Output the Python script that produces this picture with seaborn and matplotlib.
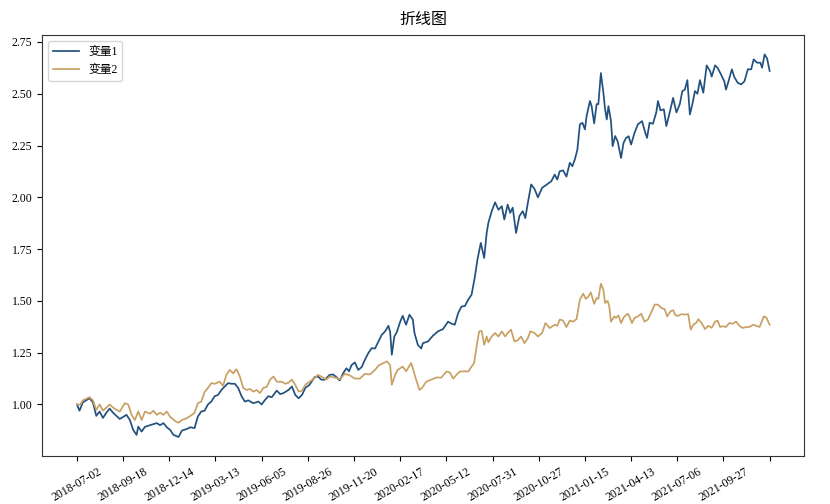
import matplotlib
matplotlib.use("Agg")
import matplotlib.pyplot as plt
import seaborn as sns
import pandas as pd

# ---- data (trading-day index, value) ----
days_v1 = [0, 3, 7, 15, 19, 23, 27, 31, 35, 39, 43, 47, 51, 55, 59, 63, 67, 71, 73, 77,
           81, 87, 95, 99, 103, 107, 111, 115, 121, 125, 131, 135, 140, 144, 148, 152, 156, 160, 164, 168,
           172, 176, 180, 184, 188, 192, 196, 200, 204, 210, 216, 220, 224, 228, 232, 238, 242, 246, 252, 256,
           260, 264, 268, 272, 277, 283, 287, 291, 295, 301, 305, 309, 313, 317, 321, 324, 327, 331, 335, 339,
           343, 347, 351, 355, 359, 363, 367, 371, 373, 375, 378, 381, 385, 388, 392, 396, 400, 402, 406, 410,
           412, 418, 424, 430, 436, 442, 446, 450, 454, 458, 462, 466, 470, 474, 477, 481, 485, 488, 490, 494,
           498, 502, 506, 509, 513, 516, 519, 523, 527, 531, 534, 537, 541, 545, 549, 554, 559, 565, 569, 572,
           575, 579, 583, 587, 590, 593, 596, 599, 602, 605, 607, 611, 613, 616, 619, 621, 624, 627, 629, 631,
           633, 636, 638, 641, 644, 648, 651, 654, 657, 660, 664, 668, 673, 677, 679, 682, 686, 690, 692, 695,
           699, 702, 706, 710, 714, 718, 721, 724, 727, 730, 733, 736, 739, 742, 746, 750, 754, 756, 760, 763,
           767, 771, 773, 776, 780, 783, 787, 791, 795, 799, 803, 806, 810, 814, 816, 819, 822, 825]
values_v1 = [1.00, 0.97, 1.01, 1.03, 1.01, 0.945, 0.966, 0.935, 0.96, 0.98, 0.96, 0.945, 0.93, 0.94, 0.95, 0.925, 0.877, 0.853, 0.893, 0.869,
             0.892, 0.90, 0.91, 0.90, 0.91, 0.89, 0.877, 0.853, 0.843, 0.874, 0.882, 0.89, 0.886, 0.942, 0.966, 0.97, 1.00, 1.014, 1.04, 1.046,
             1.07, 1.087, 1.103, 1.10, 1.10, 1.08, 1.04, 1.014, 1.02, 1.006, 1.014, 1.00, 1.022, 1.04, 1.035, 1.067, 1.05, 1.055, 1.07, 1.087,
             1.046, 1.03, 1.046, 1.08, 1.095, 1.132, 1.135, 1.12, 1.119, 1.143, 1.145, 1.132, 1.116, 1.151, 1.175, 1.16, 1.19, 1.203, 1.167, 1.18,
             1.216, 1.248, 1.272, 1.27, 1.304, 1.336, 1.353, 1.38, 1.35, 1.24, 1.328, 1.35, 1.40, 1.428, 1.385, 1.433, 1.41, 1.345, 1.288, 1.27,
             1.296, 1.304, 1.332, 1.353, 1.364, 1.40, 1.39, 1.385, 1.441, 1.473, 1.475, 1.506, 1.53, 1.618, 1.70, 1.78, 1.707, 1.828, 1.877, 1.933,
             1.976, 1.94, 1.957, 1.893, 1.965, 1.925, 1.95, 1.828, 1.91, 1.933, 1.90, 1.973, 2.062, 2.04, 2.00, 2.046, 2.06, 2.078, 2.11, 2.086,
             2.126, 2.13, 2.10, 2.167, 2.15, 2.183, 2.23, 2.352, 2.36, 2.328, 2.392, 2.465, 2.44, 2.357, 2.45, 2.45, 2.60, 2.505, 2.425, 2.376,
             2.44, 2.37, 2.247, 2.296, 2.27, 2.19, 2.263, 2.287, 2.295, 2.255, 2.31, 2.352, 2.368, 2.31, 2.287, 2.36, 2.355, 2.41, 2.465, 2.42,
             2.425, 2.344, 2.41, 2.48, 2.41, 2.45, 2.513, 2.52, 2.566, 2.40, 2.45, 2.513, 2.50, 2.566, 2.505, 2.637, 2.61, 2.583, 2.637, 2.625,
             2.594, 2.56, 2.52, 2.56, 2.618, 2.58, 2.553, 2.545, 2.56, 2.618, 2.618, 2.666, 2.65, 2.65, 2.626, 2.69, 2.67, 2.61]

days_v2 = [0, 4, 7, 15, 19, 23, 27, 31, 35, 39, 43, 47, 51, 57, 61, 65, 69, 73, 77, 81,
           87, 91, 95, 99, 103, 107, 111, 117, 121, 125, 131, 137, 140, 144, 148, 152, 156, 160, 164, 170,
           174, 178, 182, 186, 190, 194, 198, 202, 206, 210, 214, 218, 222, 226, 230, 234, 238, 244, 248, 252,
           256, 260, 264, 268, 272, 277, 283, 287, 291, 297, 301, 307, 313, 319, 325, 331, 337, 343, 349, 355,
           359, 365, 369, 373, 375, 379, 382, 388, 392, 398, 400, 404, 408, 411, 416, 422, 428, 434, 440, 444,
           448, 452, 456, 462, 466, 470, 473, 476, 479, 482, 485, 488, 490, 494, 498, 502, 506, 510, 513, 517,
           521, 525, 529, 533, 537, 540, 545, 549, 554, 558, 563, 569, 572, 575, 579, 583, 587, 591, 595, 599,
           603, 606, 609, 612, 616, 619, 621, 624, 627, 629, 632, 634, 636, 640, 642, 645, 648, 652, 656, 658,
           661, 664, 668, 672, 676, 680, 684, 688, 692, 696, 700, 703, 707, 710, 713, 716, 720, 725, 728, 731,
           734, 738, 740, 744, 748, 752, 756, 760, 763, 766, 769, 773, 777, 781, 785, 789, 793, 797, 801, 805,
           809, 813, 818, 821, 825]
values_v2 = [1.00, 1.00, 1.02, 1.035, 1.02, 0.974, 1.00, 0.97, 0.985, 1.00, 0.985, 0.974, 0.966, 1.006, 1.00, 0.95, 0.925, 0.966, 0.925, 0.966,
             0.955, 0.97, 0.95, 0.96, 0.95, 0.966, 0.94, 0.92, 0.912, 0.925, 0.934, 0.95, 0.96, 1.006, 1.014, 1.06, 1.08, 1.103, 1.10, 1.11,
             1.09, 1.143, 1.167, 1.15, 1.17, 1.135, 1.08, 1.07, 1.075, 1.062, 1.07, 1.055, 1.08, 1.085, 1.12, 1.135, 1.11, 1.11, 1.10, 1.105,
             1.12, 1.095, 1.062, 1.066, 1.095, 1.11, 1.127, 1.143, 1.135, 1.12, 1.135, 1.13, 1.122, 1.148, 1.14, 1.125, 1.125, 1.148, 1.145, 1.167,
             1.187, 1.20, 1.208, 1.19, 1.095, 1.143, 1.167, 1.183, 1.16, 1.20, 1.175, 1.119, 1.07, 1.08, 1.11, 1.12, 1.13, 1.13, 1.159, 1.155,
             1.125, 1.143, 1.159, 1.16, 1.159, 1.183, 1.20, 1.28, 1.353, 1.355, 1.288, 1.328, 1.30, 1.328, 1.345, 1.328, 1.353, 1.328, 1.345, 1.361,
             1.304, 1.31, 1.328, 1.296, 1.32, 1.353, 1.345, 1.328, 1.345, 1.393, 1.369, 1.385, 1.38, 1.41, 1.405, 1.374, 1.405, 1.40, 1.412, 1.506,
             1.535, 1.51, 1.52, 1.541, 1.486, 1.514, 1.51, 1.583, 1.554, 1.49, 1.50, 1.473, 1.40, 1.425, 1.418, 1.43, 1.393, 1.425, 1.438, 1.425,
             1.393, 1.417, 1.425, 1.438, 1.40, 1.41, 1.444, 1.482, 1.482, 1.466, 1.46, 1.425, 1.45, 1.455, 1.43, 1.428, 1.436, 1.434, 1.436, 1.361,
             1.385, 1.396, 1.412, 1.393, 1.364, 1.38, 1.37, 1.40, 1.405, 1.374, 1.378, 1.374, 1.393, 1.39, 1.40, 1.38, 1.369, 1.374, 1.374, 1.385,
             1.38, 1.374, 1.425, 1.42, 1.385]

series_names = ["变量1", "变量2"]
tick_labels = ["2018-07-02", "2018-09-18", "2018-12-14", "2019-03-13", "2019-06-05",
               "2019-08-26", "2019-11-20", "2020-02-17", "2020-05-12", "2020-07-31",
               "2020-10-27", "2021-01-15", "2021-04-13", "2021-07-06", "2021-09-27"]
tick_step = 55

df = pd.concat([
    pd.DataFrame({"day": days_v1, "value": values_v1, "series": series_names[0]}),
    pd.DataFrame({"day": days_v2, "value": values_v2, "series": series_names[1]}),
], ignore_index=True)

serif_cjk = ["Liberation Serif", "Noto Sans CJK SC"]
plt.rcParams["font.family"] = serif_cjk

fig = plt.figure(figsize=(8.3, 5.04), dpi=100)
ax = fig.add_axes([0.051, 0.095, 0.918, 0.835])

sns.lineplot(data=df, x="day", y="value", hue="series",
             palette={series_names[0]: "#22517f", series_names[1]: "#c9a063"},
             linewidth=1.25, ax=ax)

ticks = list(range(0, tick_step * len(tick_labels) + 1, tick_step))
ax.set_xticks(ticks)
ax.set_xticklabels(tick_labels + [""], rotation=30, fontsize=8.5)
ax.tick_params(axis="x", pad=3.5)
ax.set_yticks([1.00, 1.25, 1.50, 1.75, 2.00, 2.25, 2.50, 2.75])
ax.set_yticklabels(["1.00", "1.25", "1.50", "1.75", "2.00", "2.25", "2.50", "2.75"], fontsize=8.5)
ax.set_xlabel("")
ax.set_ylabel("")
ax.set_title("折线图", fontsize=11.5, pad=8)
for s in ax.spines.values():
    s.set_color("#333333")
leg = ax.legend(loc="upper left", fontsize=8.5, handlelength=2.2)
leg.set_title(None)

fig.savefig("out.png", dpi=100)
